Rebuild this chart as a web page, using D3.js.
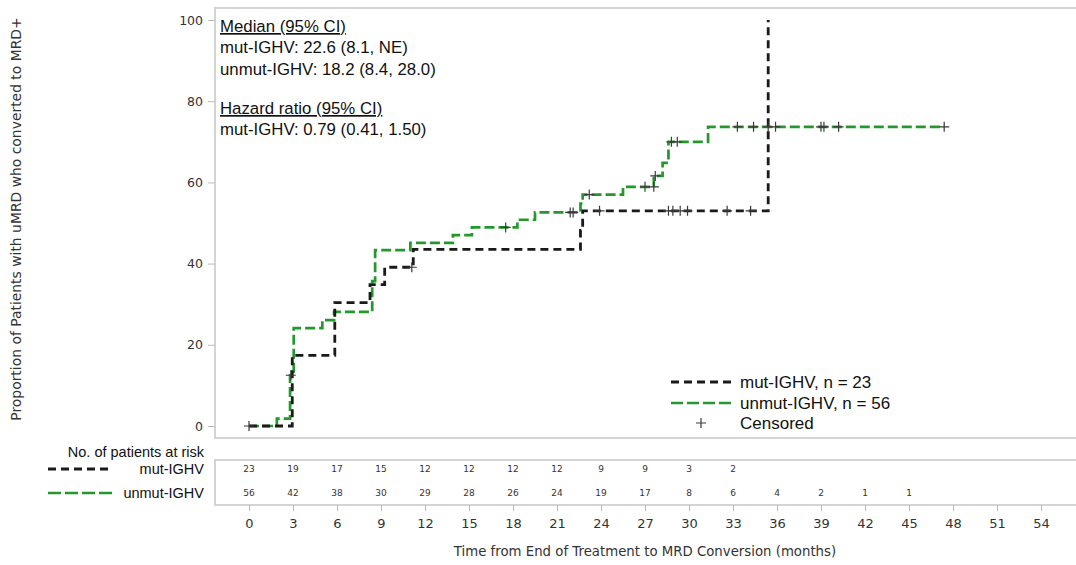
<!DOCTYPE html>
<html>
<head>
<meta charset="utf-8">
<script src="https://cdn.jsdelivr.net/npm/d3@7"></script>
<style>
  body { margin: 0; background: #fff; }
  svg text { font-family: "DejaVu Sans", sans-serif; }
  .arial { font-family: "Liberation Sans", Arial, sans-serif !important; }
</style>
</head>
<body>
<div id="chart"></div>
<script>
// step curves: [month, % converted]
var mutSteps = [[0,0],[2.95,17.4],[5.85,30.4],[8.25,34.8],[9.25,39.1],[11.2,43.5],[22.6,48.2],[22.75,53.0],[35.4,100]];
var mutCensor = [[11.1,39.1],[23.9,53.0],[28.6,53.0],[28.9,53.0],[29.4,53.0],[29.9,53.0],[32.6,53.0],[34.2,53.0]];

var unmutSteps = [[0,0],[1.9,1.8],[2.8,12.5],[3.05,24.1],[5.0,26.1],[5.8,28.1],[8.4,35.7],[8.6,43.3],[11.0,45.1],
  [13.9,47.0],[15.2,48.9],[18.3,50.8],[19.5,52.6],[22.6,54.8],[22.75,57.0],[25.5,58.9],[27.6,61.6],[28.2,64.8],
  [28.6,70.0],[31.3,73.7],[47.4,73.7]];
var unmutCensor = [[0,0],[2.85,12.5],[17.5,48.9],[21.9,52.6],[22.1,52.6],[23.2,57.0],[27.0,58.9],[27.6,58.9],
  [27.7,61.6],[28.8,70.0],[29.2,70.0],[33.3,73.7],[34.4,73.7],[35.4,73.7],[35.9,73.7],[39.0,73.7],[39.2,73.7],
  [40.2,73.7],[47.4,73.7]];

var riskTimes = [0,3,6,9,12,15,18,21,24,27,30,33,36,39,42,45];
var riskMut = [23,19,17,15,12,12,12,12,9,9,3,2];
var riskUnmut = [56,42,38,30,29,28,26,24,19,17,8,6,4,2,1,1];

var xTicks = d3.range(0, 55, 3);
var yTicks = [0,20,40,60,80,100];

var medianLines = ["mut-IGHV: 22.6 (8.1, NE)", "unmut-IGHV: 18.2 (8.4, 28.0)"];
var hrLines = ["mut-IGHV: 0.79 (0.41, 1.50)"];

var W = 1076, H = 565;
var black = "#1a1a1a", green = "#22992a", frame = "#d4d4d4";

var svg = d3.select("#chart").append("svg").attr("width", W).attr("height", H);

var x = d3.scaleLinear().domain([0, 54]).range([249, 1041]);
var y = d3.scaleLinear().domain([0, 100]).range([426, 20]);

// plot frame
svg.append("rect").attr("x", 215).attr("y", 8).attr("width", 870).attr("height", 430)
  .attr("fill", "none").attr("stroke", frame).attr("stroke-width", 2);

// y axis
var yAxis = svg.append("g").attr("transform", "translate(215,0)")
  .call(d3.axisLeft(y).tickValues(yTicks).tickSize(7).tickPadding(5));
yAxis.select(".domain").remove();
yAxis.selectAll("line").attr("stroke", "#bbb");
yAxis.selectAll("text").attr("font-size", 12.5).attr("fill", "#333")
  .attr("font-family", "DejaVu Sans");

svg.append("text").attr("transform", "translate(21,219) rotate(-90)")
  .attr("text-anchor", "middle").attr("font-size", 13.9).attr("fill", "#333")
  .text("Proportion of Patients with uMRD who converted to MRD+");

// curves
var line = d3.line().x(d => x(d[0])).y(d => y(d[1])).curve(d3.curveStepAfter);

svg.append("path").attr("d", line(unmutSteps)).attr("fill", "none")
  .attr("stroke", green).attr("stroke-width", 2.7).attr("stroke-dasharray", "10,4");
svg.append("path").attr("d", line(mutSteps)).attr("fill", "none")
  .attr("stroke", black).attr("stroke-width", 2.8).attr("stroke-dasharray", "8,5");

function plus(g, cx, cy) {
  g.append("path").attr("d", "M" + (cx - 5) + "," + cy + "H" + (cx + 5) + "M" + cx + "," + (cy - 5) + "V" + (cy + 5))
    .attr("stroke", "#3a3a3a").attr("stroke-width", 1.2).attr("fill", "none");
}
var cg = svg.append("g");
unmutCensor.forEach(d => plus(cg, x(d[0]), y(d[1])));
mutCensor.forEach(d => plus(cg, x(d[0]), y(d[1])));

// annotations
var ann = svg.append("g").attr("font-size", 16.8).attr("fill", "#111");
ann.append("text").attr("class", "arial").attr("x", 220).attr("y", 32).attr("text-decoration", "underline").text("Median (95% CI)");
medianLines.forEach((t, i) => ann.append("text").attr("class", "arial").attr("x", 220).attr("y", 53 + i * 21.5).text(t));
ann.append("text").attr("class", "arial").attr("x", 220).attr("y", 114).attr("text-decoration", "underline").text("Hazard ratio (95% CI)");
hrLines.forEach((t, i) => ann.append("text").attr("class", "arial").attr("x", 220).attr("y", 135 + i * 21.5).text(t));

// legend
var leg = svg.append("g");
leg.append("line").attr("x1", 671).attr("x2", 732).attr("y1", 382).attr("y2", 382)
  .attr("stroke", black).attr("stroke-width", 2.8).attr("stroke-dasharray", "8,5");
leg.append("line").attr("x1", 671).attr("x2", 732).attr("y1", 403).attr("y2", 403)
  .attr("stroke", green).attr("stroke-width", 2.7).attr("stroke-dasharray", "12,4");
plus(leg, 701, 423);
["mut-IGHV, n = 23", "unmut-IGHV, n = 56", "Censored"].forEach((t, i) =>
  leg.append("text").attr("class", "arial").attr("x", 740).attr("y", 388 + i * 20.5)
    .attr("font-size", 17).attr("fill", "#111").text(t));

// risk table
svg.append("rect").attr("x", 215).attr("y", 460).attr("width", 870).attr("height", 45)
  .attr("fill", "none").attr("stroke", frame).attr("stroke-width", 2);

var rt = svg.append("g").attr("font-size", 9).attr("fill", "#333").attr("text-anchor", "middle");
riskMut.forEach((v, i) => rt.append("text").attr("x", x(riskTimes[i])).attr("y", 472).text(v));
riskUnmut.forEach((v, i) => rt.append("text").attr("x", x(riskTimes[i])).attr("y", 496).text(v));

var rl = svg.append("g").attr("font-size", 14.5).attr("fill", "#111").attr("text-anchor", "end");
rl.append("text").attr("class", "arial").attr("x", 204).attr("y", 457).text("No. of patients at risk");
rl.append("text").attr("class", "arial").attr("x", 204).attr("y", 474).text("mut-IGHV");
rl.append("text").attr("class", "arial").attr("x", 204).attr("y", 498).text("unmut-IGHV");
svg.append("line").attr("x1", 48).attr("x2", 112).attr("y1", 469).attr("y2", 469)
  .attr("stroke", black).attr("stroke-width", 2.8).attr("stroke-dasharray", "8,5");
svg.append("line").attr("x1", 48).attr("x2", 112).attr("y1", 493).attr("y2", 493)
  .attr("stroke", green).attr("stroke-width", 2.7).attr("stroke-dasharray", "13,4");

// x axis
var xAxis = svg.append("g").attr("transform", "translate(0,505)")
  .call(d3.axisBottom(x).tickValues(xTicks).tickSize(6).tickPadding(8));
xAxis.select(".domain").remove();
xAxis.selectAll("line").attr("stroke", "#bbb");
xAxis.selectAll("text").attr("font-size", 13).attr("fill", "#333").attr("font-family", "DejaVu Sans");

svg.append("text").attr("x", 645).attr("y", 556).attr("text-anchor", "middle")
  .attr("font-size", 13.3).attr("fill", "#333")
  .text("Time from End of Treatment to MRD Conversion (months)");
</script>
</body>
</html>
